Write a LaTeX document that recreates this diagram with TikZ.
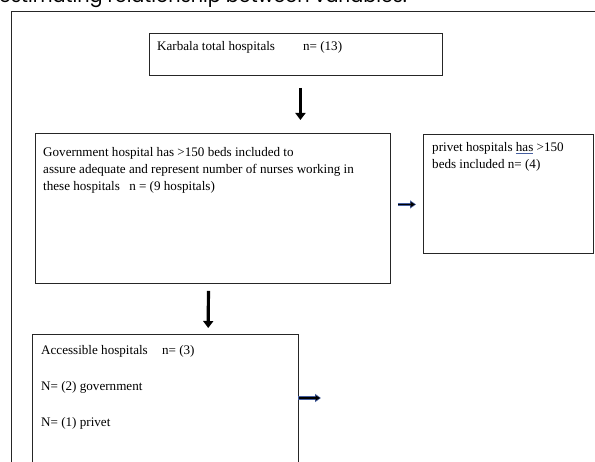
\documentclass[tikz,border=0pt]{standalone}
\usepackage{fontspec}
\setmainfont{Liberation Serif}
\newfontfamily\topfont{Poppins}
\usetikzlibrary{arrows.meta}
\definecolor{navyedge}{RGB}{70,95,160}
\newcommand\blueul[1]{{\color{navyedge}\underline{{\color{black}#1}}}}
\begin{document}
\begin{tikzpicture}[x=1pt,y=-1pt,
  box/.style={draw=black!85, line width=0.9pt, inner sep=0pt, anchor=north west},
  txt/.style={inner sep=0pt, anchor=base west, align=left, font=\fontsize{13.1}{17}\selectfont},
  darr/.style={line width=3.2pt, -{Triangle[width=10pt,length=7pt]}},
  rarrout/.style={line width=3.4pt, navyedge, -{Triangle[width=8pt,length=6pt]}},
  rarrin/.style={line width=1.8pt, black, -{Triangle[width=5pt,length=4.5pt]}}]
\useasboundingbox (0,0) rectangle (595,462);
% title fragment, cut by the page edge
\node[inner sep=0pt, anchor=base west, font=\topfont\fontsize{19.2}{22}\selectfont] (title) at (-1,3) {estimating relationship between variables.};
% outer frame
\draw[black!85, line width=0.9pt] (11,470) -- (11,11) -- (600,11);
% boxes
\node[box, minimum width=293pt, minimum height=42pt] (b1) at (149,33) {};
\node[box, minimum width=355pt, minimum height=150pt] (gov) at (35,133) {};
\node[box, minimum width=170pt, minimum height=119pt] (priv) at (423,134) {};
\node[inner sep=0pt, anchor=north west, minimum width=266pt, minimum height=140pt] (acc) at (32,334) {};
\draw[black!85, line width=0.9pt] (acc.south west) |- (acc.north east) -- (acc.south east);
% texts (anchor = baseline of the last line)
\node[txt] (t1) at (157,51) {Karbala total hospitals\hspace{28pt}n= (13)};
\node[txt] (t2) at (43,191) {Government hospital has >150 beds included to\\assure adequate and represent number of nurses working in\\these hospitals\hspace{6pt} n = (9 hospitals)};
\node[txt] (t3) at (432,169) {privet hospitals \blueul{has} >150\\beds included n= (4)};
\node[txt, font=\fontsize{13.1}{36}\selectfont] (t4) at (41,427) {Accessible hospitals\hspace{11pt} n= (3)\\N= (2) government\\N= (1) privet};
% arrows
\draw[darr] ([xshift=4.5pt,yshift=-12pt]b1.south) -- ([xshift=87.5pt,yshift=13pt]gov.north);
\draw[darr] ([xshift=-4.5pt,yshift=-7pt]gov.south) -- ([xshift=43pt,yshift=6pt]acc.north);
\draw[rarrout] ([xshift=7pt,yshift=4pt]gov.east) -- ([xshift=-7pt,yshift=-10.5pt]priv.west);
\draw[rarrin] ([xshift=7.5pt,yshift=4pt]gov.east) -- ([xshift=-8pt,yshift=-10.5pt]priv.west);
\coordinate (accarr) at (321,398);
\draw[rarrout] (acc.east |- accarr) -- (accarr);
\draw[rarrin] ([xshift=0.5pt]acc.east |- accarr) -- ([xshift=-1pt]accarr);
\end{tikzpicture}
\end{document}
